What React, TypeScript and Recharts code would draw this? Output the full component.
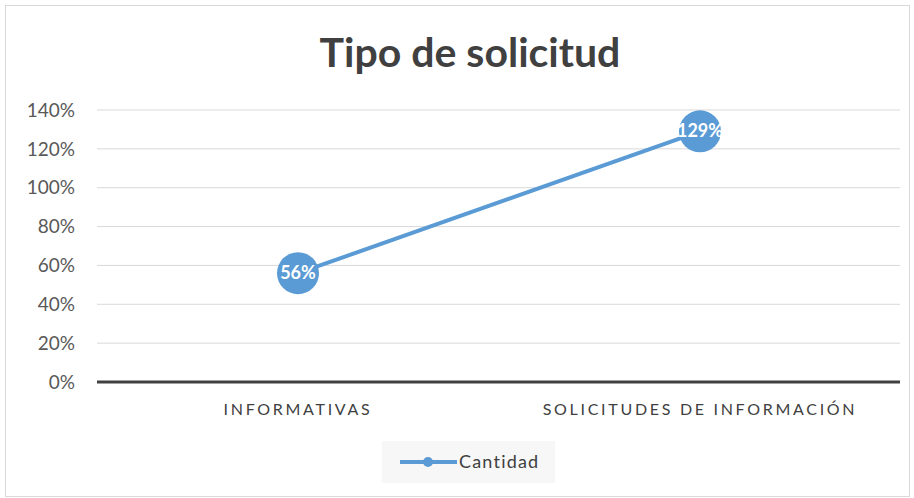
import React from 'react';
import { LineChart, Line, XAxis, YAxis, CartesianGrid, Legend, LabelList } from 'recharts';

const categories = ['INFORMATIVAS', 'SOLICITUDES DE INFORMACIÓN'];
const cantidad = [0.56, 1.29];
const yTicks = [0, 0.2, 0.4, 0.6, 0.8, 1, 1.2, 1.4];
const seriesName = 'Cantidad';
const title = 'Tipo de solicitud';

const data = categories.map((name, i) => ({ name, cantidad: cantidad[i] }));

const FONT = 'Lato, "Open Sans", sans-serif';
const BLUE = '#5b9bd5';

const pct = (v: number) => `${Math.round(v * 100)}%`;

const PointLabel = (props: any) => {
  const { x, y, value } = props;
  return (
    <text x={x} y={y} dy={6} textAnchor="middle" fill="#fff" fontSize={18} fontWeight={700} fontFamily={FONT}>
      {pct(value)}
    </text>
  );
};

const LegendBox = () => (
  <div style={{ width: 173, height: 42, background: '#f7f7f7', position: 'relative' }}>
    <svg width={173} height={42} style={{ position: 'absolute', left: 0, top: 0 }}>
      <line x1={18} y1={21} x2={75} y2={21} stroke={BLUE} strokeWidth={4} />
      <circle cx={46} cy={21} r={5} fill={BLUE} />
      <text x={77} y={27} fontSize={18} fill="#404040" fontFamily={FONT} letterSpacing={1.2}>
        {seriesName}
      </text>
    </svg>
  </div>
);

export default function App() {
  return (
    <div style={{ position: 'absolute', left: 0, top: 0, width: 914, height: 498, background: '#fff' }}>
      <div
        style={{
          position: 'absolute',
          left: 5,
          top: 5,
          width: 903,
          height: 490,
          border: '1px solid #d9d9d9',
        }}
      />
      <div
        style={{
          position: 'absolute',
          left: 0,
          top: 27,
          width: 940,
          textAlign: 'center',
          fontFamily: FONT,
          fontWeight: 700,
          fontSize: 41,
          color: '#404040',
        }}
      >
        {title}
      </div>
      <div style={{ position: 'absolute', left: 0, top: 0 }}>
        <LineChart width={914} height={498} data={data} margin={{ top: 110, right: 14, left: 0, bottom: 15 }}>
          <CartesianGrid vertical={false} stroke="#d9d9d9" />
          <XAxis
            dataKey="name"
            padding={{ left: 201, right: 200 }}
            axisLine={{ stroke: '#404040', strokeWidth: 3 }}
            tickLine={false}
            tickSize={0}
            tickMargin={22}
            height={59}
            tick={{ fill: '#404040', fontSize: 16, fontFamily: FONT, letterSpacing: 2.7 }}
          />
          <YAxis
            domain={[0, 1.4]}
            ticks={yTicks}
            tickFormatter={pct}
            axisLine={false}
            tickLine={false}
            tickSize={0}
            tickMargin={22}
            width={97}
            tick={{ fill: '#595959', fontSize: 19, fontFamily: FONT }}
          />
          <Legend
            verticalAlign="bottom"
            height={42}
            content={() => <LegendBox />}
            wrapperStyle={{ left: 382, width: 173, bottom: 15 }}
          />
          <Line
            type="linear"
            dataKey="cantidad"
            name={seriesName}
            stroke={BLUE}
            strokeWidth={4}
            dot={{ r: 21, fill: BLUE, stroke: BLUE, strokeWidth: 0 }}
            activeDot={false}
            isAnimationActive={false}
          >
            <LabelList dataKey="cantidad" content={PointLabel} />
          </Line>
        </LineChart>
      </div>
    </div>
  );
}
